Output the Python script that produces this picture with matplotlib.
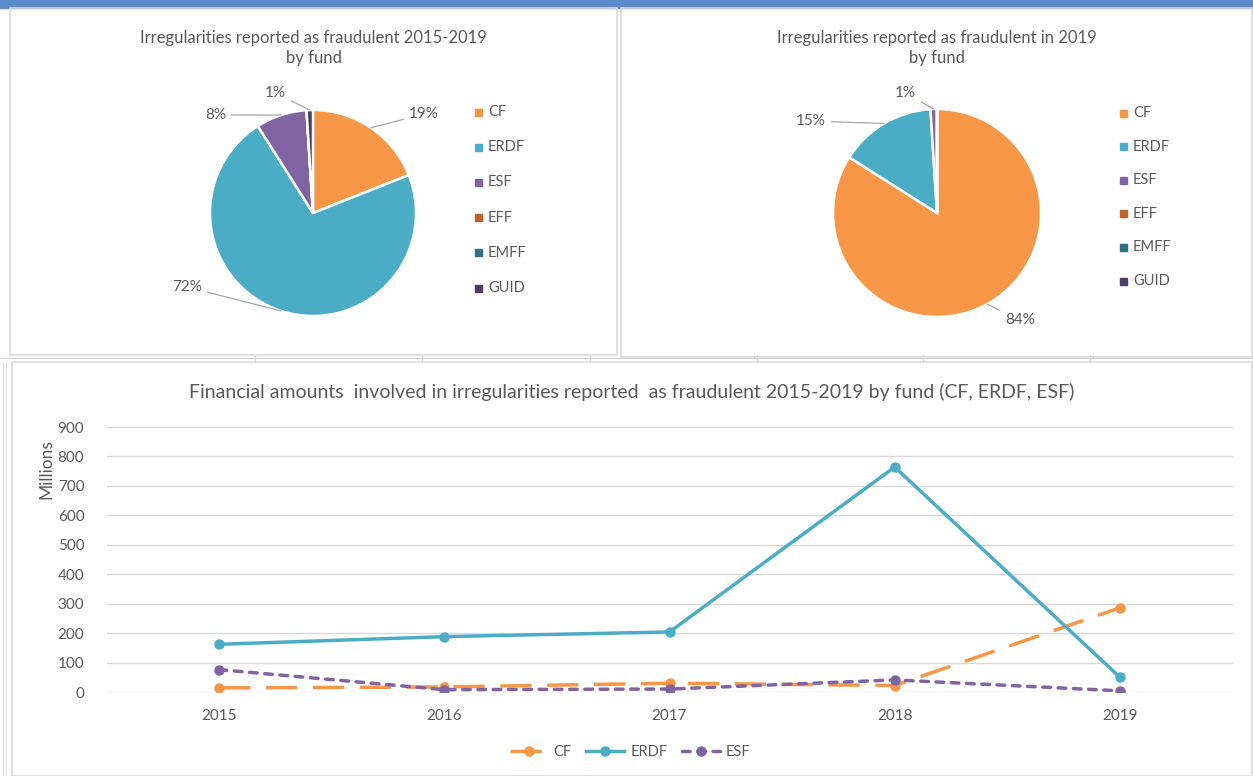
import numpy as np
import matplotlib
matplotlib.use("Agg")
import matplotlib.pyplot as plt
from matplotlib.patches import Rectangle

plt.rcParams['font.family'] = ['Lato', 'DejaVu Sans']

W, H = 1253, 776
GRAY = "#595959"

# pie data (percent of irregularities reported as fraudulent)
funds = ["CF", "ERDF", "ESF", "EFF", "EMFF", "GUID"]
fund_colors = ["#F79646", "#4BACC6", "#8064A2", "#C0622B", "#2C7185", "#4E3B6A"]
share_2015_2019 = [19, 72, 8, 0, 0, 1]
share_2019 = [84, 15, 1, 0, 0, 0]

# line chart data (millions EUR)
years = ["2015", "2016", "2017", "2018", "2019"]
cf_amounts = [14, 17, 30, 22, 286]
erdf_amounts = [162, 188, 204, 764, 50]
esf_amounts = [76, 8, 10, 41, 4]


def fbox(x0, y0, x1, y1):
    # pixel box (top-left origin) -> figure fraction rect
    return [x0 / W, 1 - y1 / H, (x1 - x0) / W, (y1 - y0) / H]


fig = plt.figure(figsize=(W / 100, H / 100), dpi=100)

# background sheet: header band and faint cell lines
bg = fig.add_axes([0, 0, 1, 1])
bg.set_xlim(0, W)
bg.set_ylim(H, 0)
bg.axis("off")
bg.add_patch(Rectangle((0, 0), W, 8, color="#5B8BC9"))
for x in [255, 422, 590, 757, 923, 1090]:
    bg.plot([x, x], [355, 362], color="#D4D4D4", lw=0.8)
bg.plot([0, W], [358, 358], color="#D4D4D4", lw=0.8)
for x in [3, 6]:
    bg.plot([x, x], [362, H], color="#E0E0E0", lw=0.8)
# chart borders
for (x0, y0, x1, y1) in [(10, 8, 617, 355), (621, 8, 1252, 357), (12, 362, 1252, 776)]:
    bg.add_patch(Rectangle((x0, y0), x1 - x0, y1 - y0, fill=False,
                           ec="#D9D9D9", lw=1.2))


def draw_pie(box, center, r, values, title, label_spots, legend_x, legend_y0, legend_dy):
    x0, y0, x1, y1 = box
    ax = fig.add_axes(fbox(x0, y0, x1, y1))
    ax.axis("off")
    wedges, _ = ax.pie(values, colors=fund_colors, startangle=90, counterclock=False,
                       radius=1, wedgeprops=dict(edgecolor="white", linewidth=1.8))
    ax.set_aspect("auto")
    ax.set_xlim((x0 - center[0]) / r, (x1 - center[0]) / r)
    ax.set_ylim((center[1] - y1) / r, (center[1] - y0) / r)
    ax.text(((x0 + x1) / 2 - center[0]) / r, (center[1] - y0 - 40) / r, title,
            ha="center", va="center", fontsize=12, color=GRAY, linespacing=1.3)
    total = float(sum(values))
    for i, (tx, ty, ha) in label_spots.items():
        w = wedges[i]
        mid = np.deg2rad((w.theta1 + w.theta2) / 2)
        ex, ey = np.cos(mid), np.sin(mid)
        lx, ly = (tx - center[0]) / r, (center[1] - ty) / r
        pct = "%d%%" % round(100 * values[i] / total)
        ax.annotate(pct, xy=(ex, ey), xytext=(lx, ly), ha=ha, va="center",
                    fontsize=11, color=GRAY,
                    arrowprops=dict(arrowstyle="-", color="#A6A6A6", lw=0.9,
                                    shrinkA=2, shrinkB=0))
    for k, name in enumerate(funds):
        py = legend_y0 + k * legend_dy
        ax.add_patch(Rectangle(((legend_x - center[0]) / r, (center[1] - py - 3.5) / r),
                               7 / r, 7 / r, color=fund_colors[k], clip_on=False))
        ax.text((legend_x + 13 - center[0]) / r, (center[1] - py) / r, name,
                ha="left", va="center", fontsize=10.5, color=GRAY)


draw_pie((10, 8, 617, 355), (313, 213), 103, share_2015_2019,
         "Irregularities reported as fraudulent 2015-2019\nby fund",
         {0: (409, 114, "left"), 1: (202, 287, "right"), 2: (226, 115, "right"),
          5: (286, 93, "right")},
         475, 112, 35.2)
draw_pie((621, 8, 1252, 357), (937, 213), 104, share_2019,
         "Irregularities reported as fraudulent in 2019\nby fund",
         {0: (1005, 320, "left"), 1: (826, 121, "right"), 2: (916, 93, "right")},
         1120, 113, 33.6)

# line chart
ax = fig.add_axes(fbox(106.5, 427, 1232.5, 692))
x = np.arange(len(years))
ax.plot(x, cf_amounts, color="#F79646", lw=2.5, marker="o", ms=6.5,
        dashes=(9, 4.5), label="CF")
ax.plot(x, erdf_amounts, color="#4BACC6", lw=2.5, marker="o", ms=6.5, label="ERDF")
ax.plot(x, esf_amounts, color="#8064A2", lw=2.5, marker="o", ms=6.5,
        dashes=(2.2, 2.2), dash_capstyle="round", label="ESF")
ax.set_xlim(-0.5, len(years) - 0.5)
ax.set_ylim(0, 900)
ax.set_yticks(range(0, 901, 100))
ax.set_xticks(x)
ax.set_xticklabels(years)
ax.grid(axis="y", color="#D9D9D9", lw=1)
ax.set_axisbelow(True)
for s in ax.spines.values():
    s.set_visible(False)
ax.tick_params(length=0, colors=GRAY, labelsize=11, pad=12)
ax.tick_params(axis="y", pad=16)
ax.text(-0.053, 0.955, "Millions", transform=ax.transAxes, rotation=90,
        ha="center", va="top", color=GRAY, fontsize=12.5)
ax.set_title("Financial amounts  involved in irregularities reported  as fraudulent 2015-2019 by fund (CF, ERDF, ESF)",
             color=GRAY, fontsize=14, pad=21, x=0.4667)
ax.legend(loc="center", bbox_to_anchor=(0.465, -0.225), ncol=3, frameon=False,
          fontsize=10.5, labelcolor=GRAY, handlelength=2.6, columnspacing=1.0,
          handletextpad=0.4)

fig.savefig("out.png", dpi=100)
